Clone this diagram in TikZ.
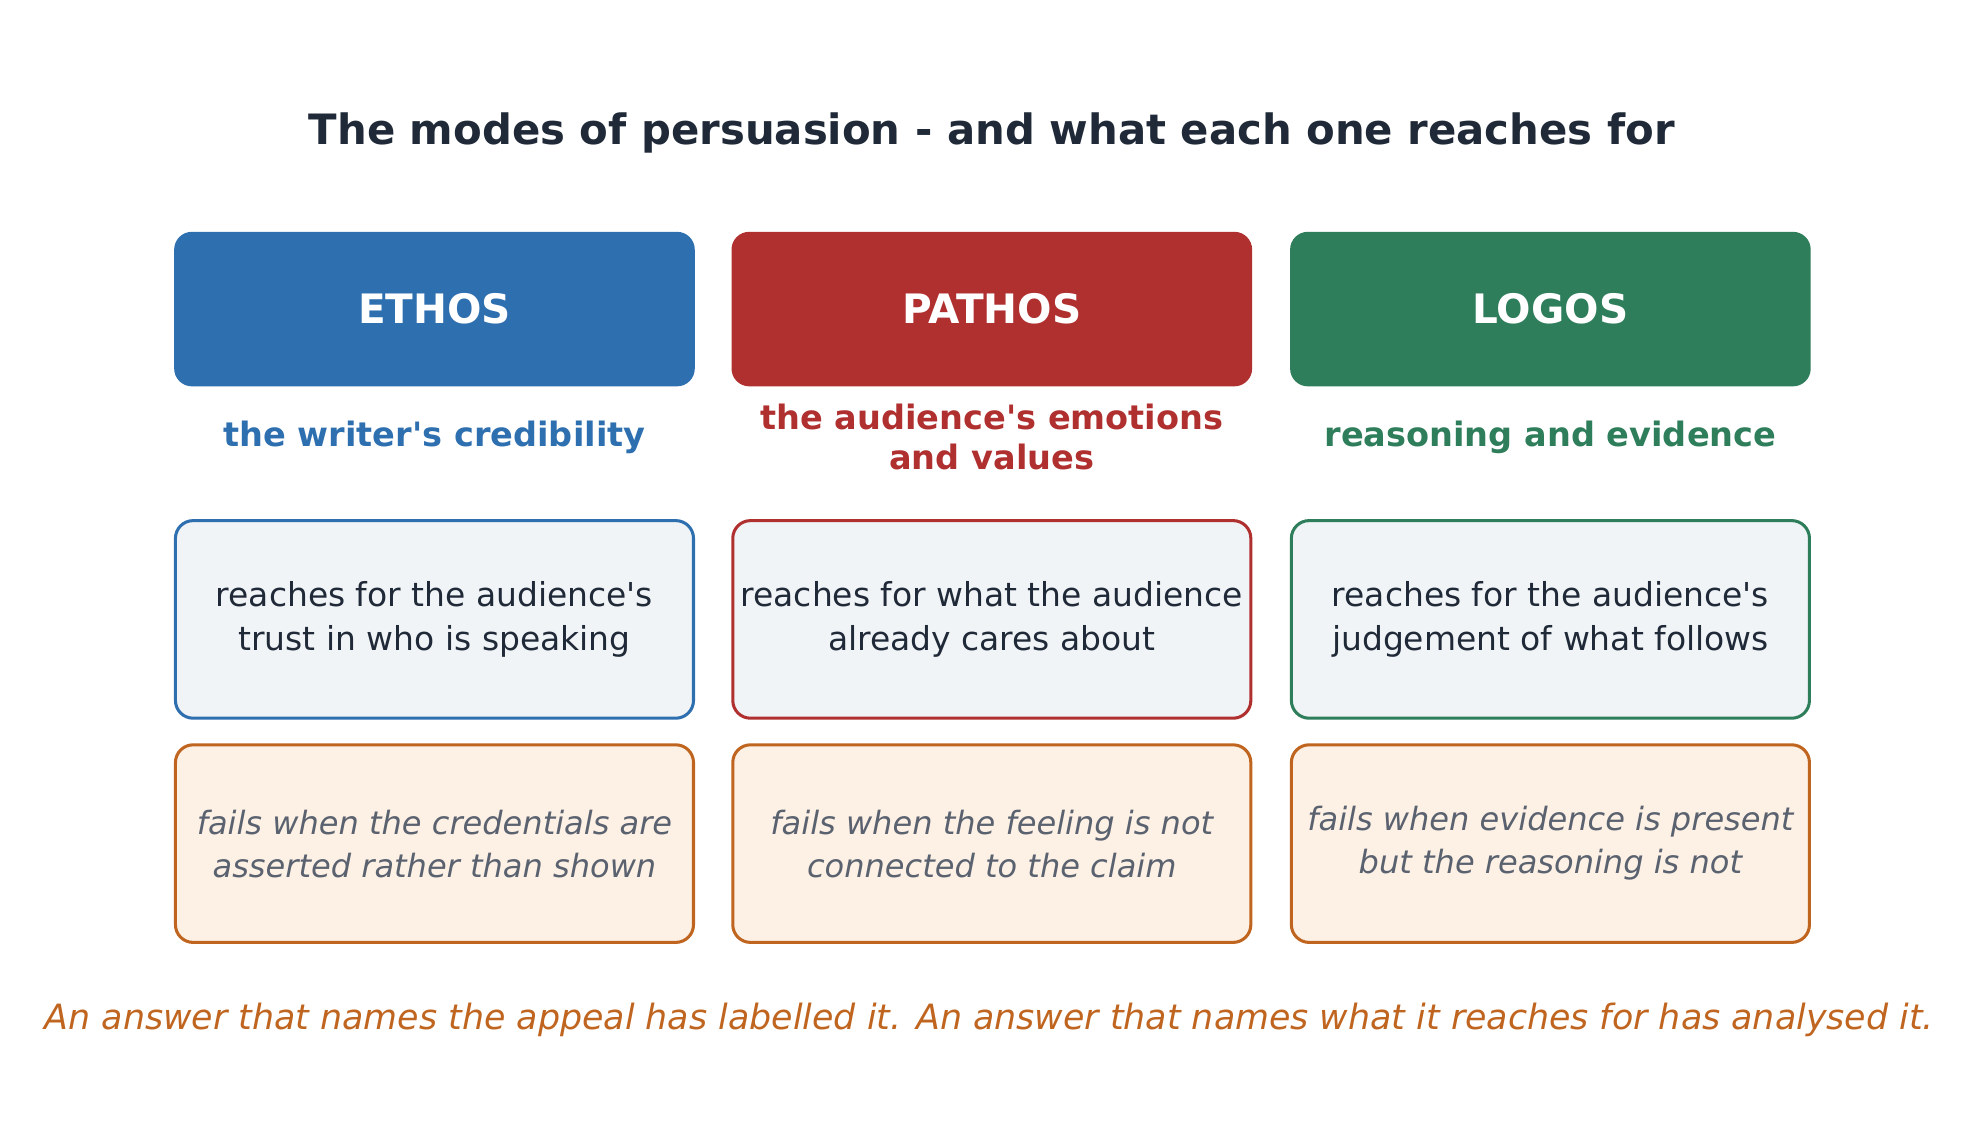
\documentclass[tikz,border=0pt]{standalone}
\usepackage{fontspec}
\setmainfont{DejaVu Sans}
\usetikzlibrary{positioning}
\definecolor{ethosc}{HTML}{2E6FB0}
\definecolor{pathosc}{HTML}{B03030}
\definecolor{logosc}{HTML}{2E7D5B}
\definecolor{inkc}{HTML}{1F2937}
\definecolor{mutec}{HTML}{5A6270}
\definecolor{warnc}{HTML}{C0651F}
\definecolor{reachf}{HTML}{F1F4F7}
\definecolor{failf}{HTML}{FDF0E4}
\tikzset{
  head/.style={rounded corners=14pt,minimum width=411pt,minimum height=122pt,text=white,
    font=\fontsize{32}{38}\selectfont\bfseries},
  sub/.style={align=center,font=\fontsize{26.5}{31}\selectfont\bfseries},
  reach/.style={draw,line width=2.4pt,rounded corners=14pt,fill=reachf,minimum width=409pt,
    minimum height=156pt,align=center,text=inkc,font=\fontsize{26}{34}\selectfont},
  fail/.style={reach,draw=warnc,fill=failf,text=mutec,font=\fontsize{25.3}{34}\selectfont\itshape}
}
\begin{document}
\begin{tikzpicture}[x=1pt,y=-1pt]
  \useasboundingbox (0,0) rectangle (1560,900);
  \node[font=\fontsize{33}{38}\selectfont\bfseries,text=inkc] (title) at (783,105)
    {The modes of persuasion - and what each one reaches for};
  \foreach \x/\n/\c/\s/\r/\f in {
    343/ETHOS/ethosc/{the writer\textquotesingle s credibility}/{reaches for the audience\textquotesingle s\\trust in who is speaking}/{fails when the credentials are\\asserted rather than shown},
    783/PATHOS/pathosc/{the audience\textquotesingle s emotions\\and values}/{reaches for what the audience\\already cares about}/{fails when the feeling is not\\connected to the claim},
    1224/LOGOS/logosc/{reasoning and evidence}/{reaches for the audience\textquotesingle s\\judgement of what follows}/{fails when evidence is present\\but the reasoning is not}}{
    \node[head,fill=\c] (head-\n) at (\x,244) {\n};
    \node[sub,text=\c] (sub-\n) at (\x,345) {\s};
    \node[reach,draw=\c] (reach-\n) at (\x,489) {\r};
    \node[fail] (fail-\n) at (\x,666) {\f};
  }
  \node[font=\fontsize{27.5}{32}\selectfont\itshape,text=warnc] (note) at (781,805)
    {An answer that names the appeal has labelled it. An answer that names what it reaches for has analysed it.};
\end{tikzpicture}
\end{document}
